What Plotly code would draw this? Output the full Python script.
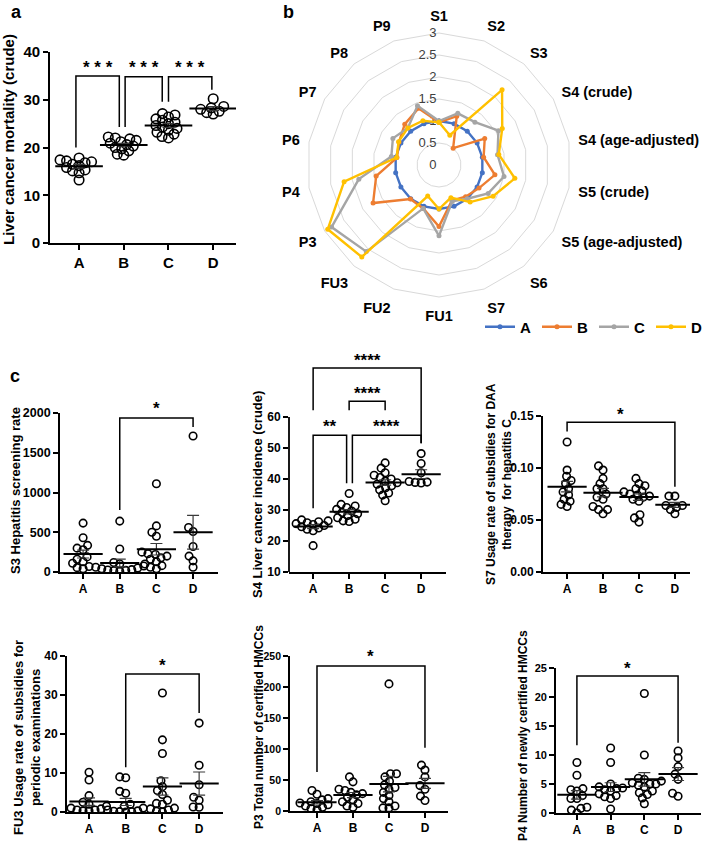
import numpy as np
import plotly.graph_objects as go

W, H = 708, 850
FONT = "Liberation Sans, Arial, sans-serif"
GROUPS = ["A", "B", "C", "D"]

# panel a
mortality_crude = [
    [13.2, 14.7, 15.1, 15.3, 15.8, 16.2, 16.5, 16.8, 17.0, 17.2, 17.4, 17.8],
    [18.4, 18.6, 19.3, 19.7, 20.0, 20.3, 20.6, 20.9, 21.2, 21.5, 21.8, 22.0, 22.2],
    [22.0, 22.3, 22.8, 23.2, 23.6, 24.0, 24.3, 24.6, 25.0, 25.3, 25.7, 26.0, 26.4, 26.8, 27.1],
    [27.0, 27.3, 27.6, 28.0, 28.3, 28.6, 30.2],
]

# panel b
radar_labels = ["S1", "S2", "S3", "S4 (crude)", "S4 (age-adjusted)", "S5 (crude)",
                "S5 (age-adjusted)", "S6", "S7", "FU1", "FU2", "FU3", "P3", "P4",
                "P6", "P7", "P8", "P9"]
radar_A = [1.0, 1.0, 1.0, 1.0, 1.0, 1.0, 1.0, 1.0, 1.0, 1.0, 1.0, 1.0, 1.0, 1.0, 1.0, 1.0, 1.0, 1.0]
radar_B = [0.97, 1.18, 0.50, 1.20, 1.03, 1.29, 1.05, 0.94, 0.86, 1.40, 1.05, 1.01, 1.73, 1.45, 0.97, 1.05, 1.21, 1.37]
radar_C = [1.00, 1.25, 1.27, 1.56, 1.35, 1.50, 1.29, 1.00, 0.88, 1.61, 1.05, 2.57, 2.82, 1.85, 1.10, 1.21, 1.10, 1.43]
radar_D = [0.97, 0.72, 2.23, 1.66, 1.38, 1.75, 1.42, 1.10, 0.79, 1.00, 0.75, 2.73, 2.92, 2.19, 0.98, 1.06, 1.10, 1.07]
radar_colors = ["#4472C4", "#ED7D31", "#A5A5A5", "#FFC000"]

# panel c
hepatitis_screening = [
    [40, 55, 70, 110, 130, 160, 190, 280, 300, 335, 430, 615],
    [10, 15, 20, 25, 30, 40, 50, 60, 75, 100, 120, 290, 640],
    [40, 60, 80, 100, 130, 160, 180, 200, 220, 230, 250, 450, 500, 580, 1110],
    [60, 140, 200, 320, 510, 560, 1710],
]
incidence_crude = [
    [18.5, 23.3, 23.8, 24.2, 24.6, 25.0, 25.3, 25.6, 25.9, 26.2, 26.5, 26.8],
    [26.3, 26.5, 27.0, 27.5, 28.2, 28.8, 29.2, 29.7, 30.2, 30.8, 31.3, 31.8, 35.3],
    [33.0, 34.8, 35.5, 36.5, 37.2, 37.8, 38.3, 38.8, 39.3, 40.0, 40.5, 41.2, 42.0, 43.5, 45.2],
    [38.7, 38.9, 39.0, 39.2, 42.0, 45.0, 48.2],
]
daa_subsidy_usage = [
    [0.063, 0.065, 0.068, 0.070, 0.074, 0.077, 0.080, 0.085, 0.088, 0.092, 0.098, 0.125],
    [0.056, 0.060, 0.060, 0.063, 0.070, 0.072, 0.075, 0.080, 0.080, 0.085, 0.090, 0.098, 0.102],
    [0.048, 0.052, 0.055, 0.068, 0.070, 0.072, 0.073, 0.074, 0.075, 0.077, 0.078, 0.080, 0.083, 0.085, 0.090],
    [0.056, 0.060, 0.062, 0.064, 0.064, 0.073, 0.073],
]
periodic_exam_usage = [
    [0.3, 0.3, 0.5, 0.5, 0.8, 1.0, 1.5, 2.0, 2.5, 4.2, 8.2, 10.2],
    [0.0, 0.1, 0.1, 0.2, 0.3, 0.5, 1.0, 1.5, 2.0, 4.8, 5.3, 8.8, 9.0],
    [0.0, 0.2, 0.5, 0.8, 1.0, 2.2, 2.0, 3.0, 4.5, 5.5, 6.5, 8.0, 15.0, 18.5, 30.5],
    [1.2, 1.3, 3.0, 3.8, 7.0, 12.0, 22.8],
]
certified_hmccs = [
    [2, 4, 6, 8, 10, 12, 13, 15, 18, 20, 27, 33],
    [6, 8, 12, 15, 18, 22, 26, 28, 30, 33, 35, 47, 55],
    [5, 5, 8, 15, 20, 25, 30, 35, 38, 42, 48, 55, 60, 60, 205],
    [17, 24, 35, 41, 55, 66, 74],
]
new_certified_hmccs = [
    [0.0, 0.5, 0.8, 1.0, 2.5, 2.5, 3.0, 3.8, 4.0, 4.2, 6.5, 8.7],
    [0.7, 2.5, 2.8, 3.0, 3.3, 3.8, 4.0, 4.2, 4.3, 4.5, 5.0, 8.7, 11.2],
    [1.6, 2.6, 3.2, 3.5, 3.8, 4.5, 4.8, 5.0, 5.0, 5.2, 5.5, 5.8, 6.0, 10.0, 20.6],
    [2.9, 3.4, 5.8, 6.7, 8.0, 9.5, 10.7],
]

# layout of the cartesian panels, in pixels: (left, right, y of range top, y of range bottom)
panels = [
    dict(vals=mortality_crude, box=(50, 236, 52, 243), xr=(-0.65, 3.51), yr=(0, 40), dtick=10,
         title="Liver cancer mortality (crude)", tpos=(9, 140), tfs=15, yfs=15, xfs=15,
         ms=9.5, mw=34, sw=0.68,
         brackets=[(-0.07, 0.9, 20.0, 35.0, 24.3, "* * *", 37.6),
                   (1.03, 1.86, 24.3, 34.8, 29.6, "* * *", 37.6),
                   (2.0, 2.97, 29.6, 34.8, 32.1, "* * *", 37.6)]),
    dict(vals=hepatitis_screening, box=(60, 218, 413, 572), xr=(-0.63, 3.68), yr=(0, 2000), dtick=500,
         title="S3 Hepatitis screening rate", tpos=(15, 491), tfs=13, yfs=12.5, xfs=12,
         brackets=[(1, 3, 780, 1937, 1824, "*", 2110)]),
    dict(vals=incidence_crude, box=(289, 446, 417, 572), xr=(-0.67, 3.69), yr=(10, 60), dtick=10,
         title="S4 Liver cancer incidence (crude)", tpos=(257, 495), tfs=13, yfs=12, xfs=12,
         extra_top=350,
         brackets=[(0, 3, 62.2, 75.8, 51.5, "****", 79.5),
                   (1, 2, 62.2, 65.1, 62.2, "****", 68.9),
                   (0, 0.93, 30.6, 54.1, 38.6, "**", 58.1),
                   (1.09, 3, 38.6, 54.1, 51.5, "****", 58.1)]),
    dict(vals=daa_subsidy_usage, box=(543, 690, 416, 572), xr=(-0.67, 3.42), yr=(0, 0.15), dtick=0.05,
         tickformat=".2f",
         title="S7 Usage rate of subsidies for DAA<br>therapy  for hepatitis C", tpos=(499, 484),
         tfs=12, yfs=12, xfs=12,
         brackets=[(0, 3, 0.135, 0.144, 0.082, "*", 0.155)]),
    dict(vals=periodic_exam_usage, box=(67, 223, 656, 812), xr=(-0.6, 3.65), yr=(0, 40), dtick=10,
         title="FU3 Usage rate of subsidies for<br>periodic examinations", tpos=(27, 738),
         tfs=13, yfs=12, xfs=12,
         brackets=[(1, 3, 11.5, 35.4, 25.4, "*", 38.7)]),
    dict(vals=certified_hmccs, box=(290, 448, 656, 811), xr=(-0.75, 3.64), yr=(0, 250), dtick=50,
         title="P3 Total number of certified HMCCs", tpos=(259, 727), tfs=12, yfs=10.5, xfs=12,
         brackets=[(0, 3, 63, 234, 102, "*", 256)]),
    dict(vals=new_certified_hmccs, box=(556, 701, 668, 813), xr=(-0.62, 3.68), yr=(0, 25), dtick=5,
         title="P4 Number of newly certified HMCCs", tpos=(523, 736), tfs=12, yfs=11, xfs=12,
         brackets=[(0, 3, 11.7, 23.6, 12.1, "*", 25.6)]),
]


def swarm(vals, ppy, diam):
    """Beeswarm x offsets (px) so circles of given diameter do not pile up."""
    vals = np.asarray(vals, float)
    cands = sorted(np.arange(-40, 40.25, 0.5), key=lambda c: (abs(c), c))
    placed, offs = [], np.zeros(len(vals))
    for i in np.argsort(vals):
        y = vals[i] * ppy
        for c in cands:
            if all((c - px) ** 2 + (y - py) ** 2 >= diam ** 2 for px, py in placed):
                break
        placed.append((c, y))
        offs[i] = c
    return offs


fig = go.Figure()
layout = {}
annotations = []
shapes = []
bold = dict(family=FONT, color="black", weight="bold")

for k, p in enumerate(panels, start=1):
    sfx = "" if k == 1 else str(k)
    xa, ya = f"x{sfx}", f"y{sfx}"
    x0, x1, yt, yb = p["box"]
    ms, mw = p.get("ms", 7.5), p.get("mw", 28)
    ppx = (x1 - x0) / (p["xr"][1] - p["xr"][0])
    ppy = (yb - yt) / (p["yr"][1] - p["yr"][0])

    xs, ys = [], []
    for g, v in enumerate(p["vals"]):
        off = swarm(v, ppy, ms * p.get("sw", 0.8))
        xs += list(g + off / ppx)
        ys += list(v)
    fig.add_trace(go.Scatter(
        x=xs, y=ys, xaxis=xa, yaxis=ya, mode="markers", showlegend=False, hoverinfo="y",
        marker=dict(symbol="circle-open", size=ms, color="black", line=dict(width=1.6)),
    ))

    means = [float(np.mean(v)) for v in p["vals"]]
    sems = [float(np.std(v, ddof=1) / np.sqrt(len(v))) for v in p["vals"]]
    fig.add_trace(go.Scatter(
        x=list(range(4)), y=means, xaxis=xa, yaxis=ya, mode="markers", showlegend=False,
        marker=dict(symbol="line-ew-open", size=mw, color="black", line=dict(width=2, color="black")),
        error_y=dict(type="data", array=sems, color="#3a3a3a", thickness=1.2, width=6),
    ))

    for bx0, bx1, l0, top, l1, stars, sy in p["brackets"]:
        fig.add_trace(go.Scatter(
            x=[bx0, bx0, bx1, bx1], y=[l0, top, top, l1], xaxis=xa, yaxis=ya, mode="lines",
            line=dict(color="black", width=1.5), showlegend=False, hoverinfo="skip",
        ))
        # anchored on the bracket (inside the range) so plotly does not drop it
        annotations.append(dict(
            x=(bx0 + bx1) / 2, y=top, xref=xa, yref=ya, text=stars, showarrow=False,
            yanchor="middle", yshift=(sy - top) * ppy - 4, font=dict(bold, size=17),
        ))

    # S4 needs room above its axis for the brackets: taller plot area,
    # ticks only over the data range and the axis line drawn as a shape
    top_px, yrange, showline = yt, list(p["yr"]), True
    if "extra_top" in p:
        top_px = p["extra_top"]
        yrange = [p["yr"][0], p["yr"][1] + (yt - top_px) / ppy]
        showline = False
        shapes.append(dict(type="line", xref=f"{xa} domain", yref=ya, x0=0, x1=0,
                           y0=p["yr"][0], y1=p["yr"][1], line=dict(color="black", width=1.8)))

    layout[f"xaxis{sfx}"] = dict(
        domain=[x0 / W, x1 / W], range=list(p["xr"]), anchor=ya,
        tickvals=[0, 1, 2, 3], ticktext=GROUPS, showline=True, linecolor="black", linewidth=1.8,
        ticks="outside", ticklen=5, tickwidth=1.6, tickcolor="black",
        tickfont=dict(bold, size=p["xfs"]), showgrid=False, zeroline=False,
    )
    layout[f"yaxis{sfx}"] = dict(
        domain=[1 - yb / H, 1 - top_px / H], range=yrange, anchor=xa,
        tickvals=list(np.arange(p["yr"][0], p["yr"][1] + p["dtick"] / 2, p["dtick"])),
        tickformat=p.get("tickformat", ""), showline=showline, linecolor="black", linewidth=1.8,
        ticks="outside", ticklen=5, tickwidth=1.6, tickcolor="black",
        tickfont=dict(bold, size=p["yfs"]), showgrid=False, zeroline=False,
    )
    annotations.append(dict(
        x=p["tpos"][0] / W, y=1 - p["tpos"][1] / H, xref="paper", yref="paper",
        text=p["title"], textangle=-90, showarrow=False, xanchor="center", yanchor="middle",
        font=dict(bold, size=p["tfs"]),
    ))

# panel b: radar
for name, vals, col in zip(GROUPS, [radar_A, radar_B, radar_C, radar_D], radar_colors):
    fig.add_trace(go.Scatterpolar(
        r=vals + vals[:1], theta=radar_labels + radar_labels[:1], name=name,
        mode="lines+markers", line=dict(color=col, width=2.4), marker=dict(size=5, color=col),
        subplot="polar",
    ))

layout["polar"] = dict(
    domain=dict(x=[307 / W, 571 / W], y=[1 - 297 / H, 1 - 33 / H]),
    gridshape="linear", bgcolor="white",
    radialaxis=dict(range=[0, 3], dtick=0.5, angle=90, tickangle=90, side="counterclockwise",
                    showline=False, ticks="", gridcolor="#d9d9d9", gridwidth=1,
                    layer="below traces",
                    tickfont=dict(family=FONT, size=13, color="#404040")),
    angularaxis=dict(rotation=90, direction="clockwise", showgrid=False, showline=True,
                     linecolor="#d9d9d9", linewidth=1, ticks="outside", ticklen=6,
                     tickcolor="rgba(0,0,0,0)", layer="below traces",
                     tickfont=dict(bold, size=14.5)),
)

for letter, px, py in [("a", 9, 0), ("b", 281, 0), ("c", 8, 364)]:
    annotations.append(dict(
        x=px / W, y=1 - py / H, xref="paper", yref="paper", text=letter, showarrow=False,
        xanchor="left", yanchor="top", font=dict(bold, size=18),
    ))

layout.update(
    width=W, height=H, margin=dict(l=0, r=0, t=0, b=0, autoexpand=False),
    paper_bgcolor="white", plot_bgcolor="white", font=dict(family=FONT, color="black"),
    annotations=annotations, shapes=shapes,
    legend=dict(orientation="h", x=1, y=1 - 327 / H, xanchor="right", yanchor="middle",
                font=dict(bold, size=15), bgcolor="rgba(0,0,0,0)", itemwidth=30,
                tracegroupgap=0, entrywidth=12),
)
fig.update_layout(**layout)
# the page's default 8px body margin would shift the whole figure
fig.write_html("out.html", config={"displayModeBar": False},
               post_script="document.body.style.margin = '0';")
